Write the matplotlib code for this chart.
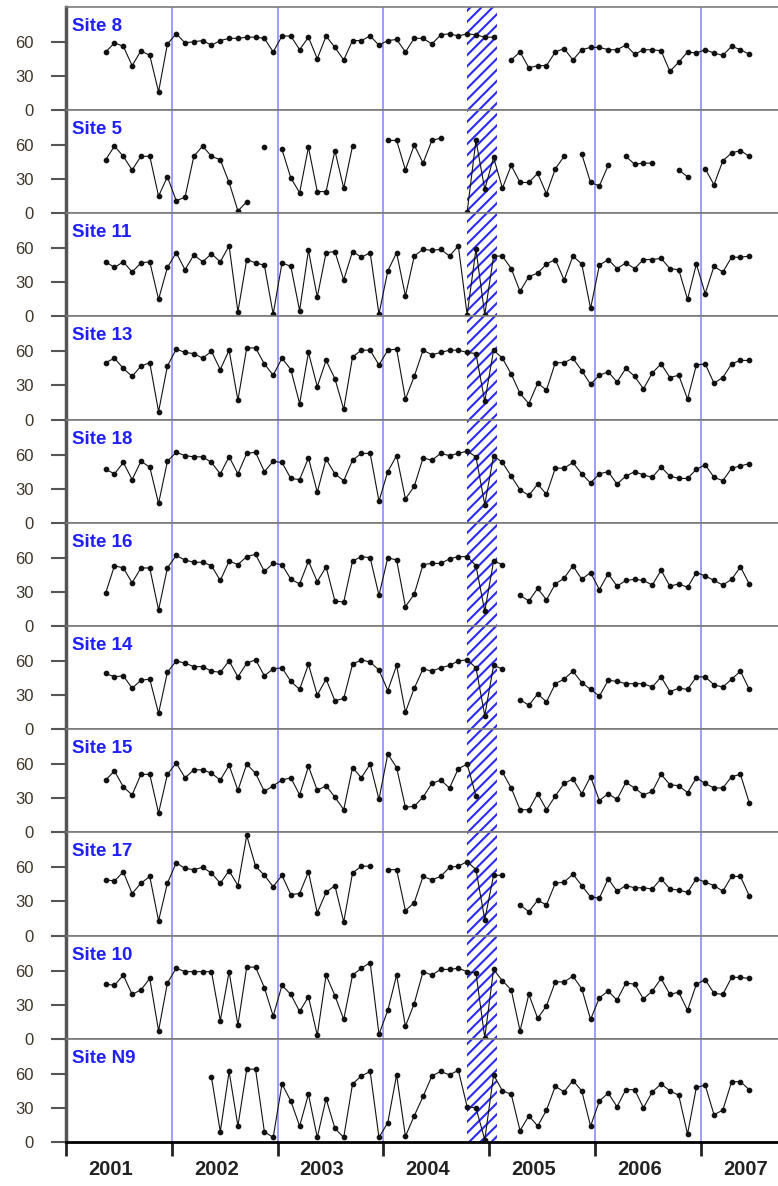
import numpy as np
import matplotlib
matplotlib.use("Agg")
import matplotlib.pyplot as plt
from matplotlib.patches import Rectangle

plt.rcParams["font.family"] = ["Liberation Sans", "DejaVu Sans"]
plt.rcParams["hatch.linewidth"] = 1.5

# monthly values; month index 0 = Jan 2001, None = no sample
site8 = [51, 59, 56, 39, 52, 48, 16, 58, 67, 59, 60, 61, 57, 61, 63, 63, 64, 64, 63, 51,
         65, 65, 53, 64, 45, 65, 55, 44, 61, 61, 65, 57, 61, 62,
         51, 63, 63, 58, 66, 67, 65, 67, 66, 64, 64, None,
         44, 51, 37, 39, 39, 51, 54, 44, 53, 55, 55, 53, 53, 57, 49, 53, 53, 52, 34, 42,
         51, 50, 53, 50, 48, 56, 53, 49]
site5 = [47, 59, 50, 38, 50, 50, 15, 32, 11, 14, 50, 59, 50, 47, 27, 2, 10, None, 58, None,
         56, 31, 18, 58, 19, 19, 55, 22, 59, None, None, None,
         64, 64, 38, 60, 44, 64, 66, None, None,
         1, 64, 21, 49, 22, 42, 27, 27, 35, 17, 39, 50, None,
         52, 27, 24, 42, None, 50, 43, 44, 44, None, None, 38, 32, None,
         39, 25, 46, 53, 55, 50]
site11 = [48, 43, 48, 39, 47, 48, 15, 43, 56, 41, 54, 48, 55, 48, 62, 4, 50, 47, 45, 2,
          47, 44, 5, 58, 17, 56, 57, 32, 57, 52, 56, 2, 40, 56,
          18, 53, 59, 58, 59, 53, 62, 1.5, 59, 1.5, 53, 53, 42, 22, 35, 38, 46, 50, 32, 53, 46, 7,
          45, 50, 42, 47, 42, 50, 50, 51, 42, 41, 15, 46, 20, 44, 39, 52, 52, 53]
site13 = [50, 54, 45, 38, 47, 50, 7, 47, 62, 59, 58, 54, 60, 44, 61, 17, 63, 63, 49, 39,
          54, 44, 14, 59, 29, 52, 36, 9, 55, 61, 61, 48, 61, 62,
          18, 38, 61, 57, 59, 61, 61, 59, 58, 16, 61, 54, 40, 23, 14, 32, 26, 50, 50, 54,
          43, 31, 39, 42, 33, 45, 38, 27, 41, 49, 37, 39, 18, 48, 49, 32, 37, 49, 52, 52]
site18 = [47, 43, 53, 38, 54, 49, 17, 54, 62, 59, 58, 58, 53, 43, 58, 43, 61, 62, 45, 54,
          53, 39, 38, 57, 27, 56, 43, 37, 55, 61, 61, 19, 45, 59,
          21, 32, 57, 55, 61, 59, 61, 63, 58, 16, 59, 53, 41, 29, 24, 34, 25, 48, 48, 53,
          43, 35, 43, 45, 34, 41, 45, 42, 40, 49, 41, 39, 39, 47, 51, 40, 37, 48, 50, 52]
site16 = [29, 53, 51, 38, 51, 51, 14, 51, 62, 58, 56, 56, 53, 40, 57, 54, 61, 63, 48, 55,
          54, 41, 37, 57, 39, 52, 22, 21, 57, 61, 60, 27, 60, 58,
          17, 28, 54, 55, 55, 59, 61, 61, 53, 13, 57, 54, None,
          27, 22, 33, 23, 37, 42, 53, 41, 47, 32, 46, 35, 40, 41, 40, 36, 49, 35, 37, 34,
          47, 44, 40, 36, 41, 52, 37]
site14 = [49, 46, 47, 36, 43, 44, 14, 50, 60, 58, 55, 55, 51, 50, 60, 46, 58, 61, 47, 53,
          54, 42, 35, 57, 30, 44, 25, 27, 57, 61, 59, 52, 34, 56,
          15, 36, 53, 51, 54, 56, 60, 61, 54, 12, 56, 53, None,
          26, 21, 31, 24, 40, 44, 51, 41, 35, 29, 43, 42, 40, 40, 40, 37, 46, 33, 36, 35,
          46, 46, 39, 37, 44, 51, 35]
site15 = [46, 54, 40, 33, 51, 51, 17, 51, 61, 48, 55, 55, 52, 46, 59, 37, 60, 52, 36, 41,
          46, 48, 33, 58, 37, 41, 31, 20, 57, 48, 60, 29, 69, 57,
          22, 23, 31, 43, 46, 39, 56, 60, 32, None, None,
          53, 39, 20, 20, 34, 20, 32, 43, 47, 34, 49, 28, 34, 29, 44, 39, 33, 36, 51, 42,
          41, 35, 48, 43, 39, 39, 49, 51, 26]
site17 = [49, 48, 56, 37, 46, 52, 13, 46, 64, 59, 58, 60, 55, 46, 57, 44, 88, 61, 53, 43,
          53, 36, 37, 56, 20, 38, 44, 12, 55, 61, 61, None,
          58, 58, 22, 29, 52, 49, 52, 60, 61, 65, 58, 14, 53, 53, None,
          27, 21, 31, 27, 46, 47, 54, 44, 34, 33, 50, 39, 44, 42, 42, 41, 50, 41, 40, 38,
          50, 47, 44, 39, 52, 52, 35]
site10 = [48, 47, 56, 39, 43, 53, 7, 49, 62, 59, 59, 59, 59, 16, 59, 12, 63, 63, 45, 20,
          47, 39, 24, 37, 3, 56, 38, 17, 56, 62, 67, 4, 25, 56,
          11, 31, 59, 56, 61, 61, 62, 59, 58, 1, 61, 51, 43, 7, 39, 18, 29, 50, 50, 55,
          44, 17, 36, 42, 34, 49, 48, 35, 42, 53, 39, 41, 25, 48, 52, 40, 39, 54, 54, 53]
siteN9 = [57, 9, 62, 14, 64, 64, 9, 4, 51, 36, 14, 42, 4, 38, 12, 4, 51, 58, 62, 4, 17, 59,
          5, 23, 40, 58, 62, 59, 63, 31, 30, 2, 59, 45, 42, 10, 23, 14, 28, 49, 44, 54, 45, 14,
          36, 43, 31, 46, 46, 30, 44, 51, 45, 41, 7, 48, 50, 24, 28, 53, 53, 46]

site_names = ["Site 8", "Site 5", "Site 11", "Site 13", "Site 18", "Site 16",
              "Site 14", "Site 15", "Site 17", "Site 10", "Site N9"]
site_series = [site8, site5, site11, site13, site18, site16,
               site14, site15, site17, site10, siteN9]
site_start = [4, 4, 4, 4, 4, 4, 4, 4, 4, 4, 16]

years = [2001, 2002, 2003, 2004, 2005, 2006, 2007]
year_labels = ["2001", "2002", "2003", "2004", "2005", "2006", "2007"]
yticks = [0, 30, 60]
hatch_span = (2004.79, 2005.07)

W, H = 778, 1186
left_px, panel_px, first_bottom_px = 66, 103.2, 110
xmax = 2007.73
ymax = 90.7

fig = plt.figure(figsize=(W / 100, H / 100), dpi=100)
n = len(site_names)
for k, (name, vals, start) in enumerate(zip(site_names, site_series, site_start)):
    bottom = 1 - (first_bottom_px + panel_px * k) / H
    ax = fig.add_axes([left_px / W, bottom, 1 - left_px / W, panel_px / H])
    y = np.array(vals, dtype=float)
    x = years[0] + (np.arange(len(y)) + start + 0.5) / 12.0

    for yr in years[1:]:
        ax.axvline(yr, color="#8282ff", lw=1.1, zorder=1)
    ax.add_patch(Rectangle((hatch_span[0], 0), hatch_span[1] - hatch_span[0], ymax,
                           facecolor="white", edgecolor="#2a2aff", hatch="///",
                           lw=0, zorder=2))
    ax.plot(x, y, "-", color="#111111", lw=0.8, marker="o", ms=3.1, zorder=4)

    ax.set_xlim(years[0], xmax)
    ax.set_ylim(0, ymax)
    ax.set_yticks(yticks)
    ax.tick_params(axis="y", length=11, width=1.5, color="#555555", pad=12,
                   labelsize=12, labelcolor="#3d3528")
    for s in ("top", "bottom"):
        ax.spines[s].set_color("#7a7a7a")
        ax.spines[s].set_linewidth(1.2)
    ax.spines["right"].set_visible(False)
    ax.spines["left"].set_color("#555555")
    ax.spines["left"].set_linewidth(2.5)

    ax.text(0.008, 0.893, name, transform=ax.transAxes, ha="left", va="top",
            fontsize=13.5, fontweight="bold", color="#1f1fff", zorder=6)

    if k < n - 1:
        ax.set_xticks([])
    else:
        ax.spines["bottom"].set_color("black")
        ax.spines["bottom"].set_linewidth(2)
        ax.set_xticks(years)
        ax.set_xticklabels([])
        ax.tick_params(axis="x", which="major", length=10, width=2, color="#222222")
        ax.set_xticks([yr + 0.42 for yr in years], minor=True)
        ax.set_xticklabels(year_labels, minor=True, fontsize=14.5, fontweight="bold",
                           color="#222222")
        ax.tick_params(axis="x", which="minor", length=0, pad=13)

fig.savefig("out.png", dpi=100)
